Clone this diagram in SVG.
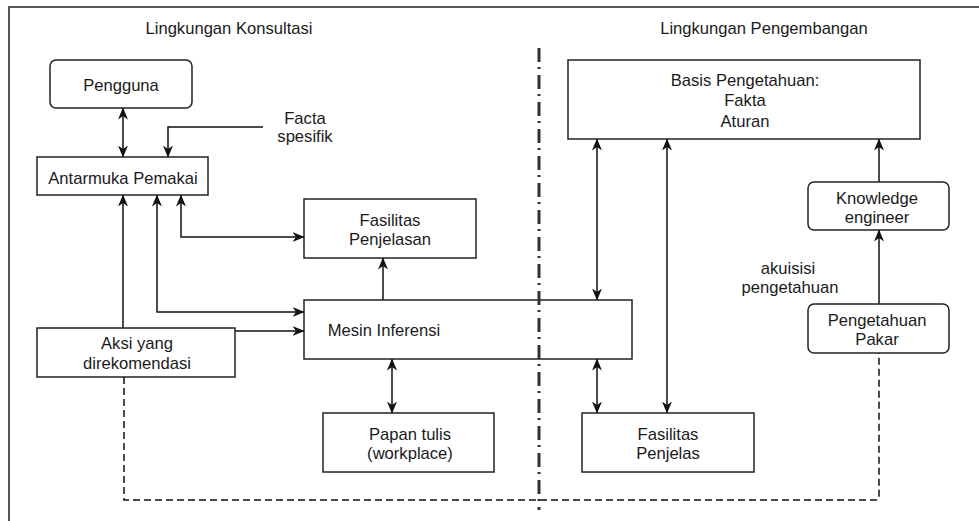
<svg xmlns="http://www.w3.org/2000/svg" width="979" height="521" viewBox="0 0 979 521">
  <style>
    .box { fill: #ffffff; stroke: #222222; stroke-width: 1.5; }
    .lbl { font-family: "Liberation Sans", Arial, sans-serif; font-size: 16.6px; fill: #1a1a1a; text-anchor: middle; }
    .edge { fill: none; stroke: #111111; stroke-width: 1.5; }
    .both { marker-start: url(#arrow); marker-end: url(#arrow); }
    .end { marker-end: url(#arrow); }
    .dash { fill: none; stroke: #111111; stroke-width: 1.5; stroke-dasharray: 7 4; }
    .divider { fill: none; stroke: #333333; stroke-width: 3; stroke-dasharray: 14 5 2 6; }
  </style>
  <defs>
    <marker id="arrow" viewBox="0 0 12 10" refX="11.5" refY="5" markerWidth="12" markerHeight="10" markerUnits="userSpaceOnUse" orient="auto-start-reverse">
      <path d="M0,0 L12,5 L0,10 L3.5,5 Z" fill="#111111"/>
    </marker>
  </defs>

  <rect width="979" height="521" fill="#ffffff"/>
  <!-- outer frame (top and left edges) -->
  <path d="M9,521 V7 H979" fill="none" stroke="#555555" stroke-width="2"/>

  <!-- section titles -->
  <text class="lbl" x="229" y="34">Lingkungan Konsultasi</text>
  <text class="lbl" x="764" y="34">Lingkungan Pengembangan</text>

  <g id="connectors">
    <path class="edge both" d="M123,108 V157"/>
    <path class="edge end" d="M263,127 H168 V157"/>
    <path class="edge end" d="M123,328 V195"/>
    <path class="edge both" d="M304,312 H157 V195"/>
    <path class="edge both" d="M181,195 V237 H304"/>
    <path class="edge end" d="M235,331 H304"/>
    <path class="edge end" d="M383,300 V258"/>
    <path class="edge both" d="M392,359 V413"/>
    <path class="edge both" d="M597,139 V300"/>
    <path class="edge both" d="M597,359 V413"/>
    <path class="edge both" d="M667,139 V413"/>
    <path class="edge end" d="M879,182 V139"/>
    <path class="edge end" d="M879,304 V230"/>
    <path class="dash" d="M124,377 V500 H876 Q879,500 879,497 V353"/>
  </g>

  <g id="pengguna">
    <rect class="box" x="50" y="60" width="142" height="48" rx="6"/>
    <text class="lbl" x="121" y="91">Pengguna</text>
  </g>
  <g id="facta-spesifik">
    <text class="lbl" x="305" y="124">Facta</text>
    <text class="lbl" x="305" y="142">spesifik</text>
  </g>
  <g id="antarmuka-pemakai">
    <rect class="box" x="37" y="157" width="171" height="38"/>
    <text class="lbl" x="123" y="184">Antarmuka Pemakai</text>
  </g>
  <g id="fasilitas-penjelasan">
    <rect class="box" x="304" y="199" width="172" height="59"/>
    <text class="lbl" x="390" y="226">Fasilitas</text>
    <text class="lbl" x="390" y="245">Penjelasan</text>
  </g>
  <g id="aksi">
    <rect class="box" x="37" y="328" width="198" height="49"/>
    <text class="lbl" x="137" y="349">Aksi yang</text>
    <text class="lbl" x="137" y="369">direkomendasi</text>
  </g>
  <g id="mesin-inferensi">
    <rect class="box" x="304" y="300" width="328" height="59"/>
    <text class="lbl" x="384" y="336">Mesin Inferensi</text>
  </g>
  <g id="papan-tulis">
    <rect class="box" x="323" y="413" width="171" height="59"/>
    <text class="lbl" x="410" y="440">Papan tulis</text>
    <text class="lbl" x="410" y="459">(workplace)</text>
  </g>
  <g id="basis-pengetahuan">
    <rect class="box" x="568" y="60" width="352" height="79"/>
    <text class="lbl" x="745" y="86">Basis Pengetahuan:</text>
    <text class="lbl" x="745" y="106">Fakta</text>
    <text class="lbl" x="745" y="127">Aturan</text>
  </g>
  <g id="fasilitas-penjelas">
    <rect class="box" x="582" y="413" width="172" height="59"/>
    <text class="lbl" x="668" y="440">Fasilitas</text>
    <text class="lbl" x="668" y="459">Penjelas</text>
  </g>
  <g id="knowledge-engineer">
    <rect class="box" x="808" y="182" width="141" height="48" rx="6"/>
    <text class="lbl" x="877" y="204">Knowledge</text>
    <text class="lbl" x="877" y="223">engineer</text>
  </g>
  <g id="akuisisi">
    <text class="lbl" x="788" y="274">akuisisi</text>
    <text class="lbl" x="790" y="293">pengetahuan</text>
  </g>
  <g id="pengetahuan-pakar">
    <rect class="box" x="808" y="304" width="141" height="49" rx="6"/>
    <text class="lbl" x="877" y="326">Pengetahuan</text>
    <text class="lbl" x="877" y="345">Pakar</text>
  </g>

  <!-- divider between the two environments, drawn over the boxes it crosses -->
  <line class="divider" x1="539" y1="48" x2="539" y2="510"/>
</svg>
